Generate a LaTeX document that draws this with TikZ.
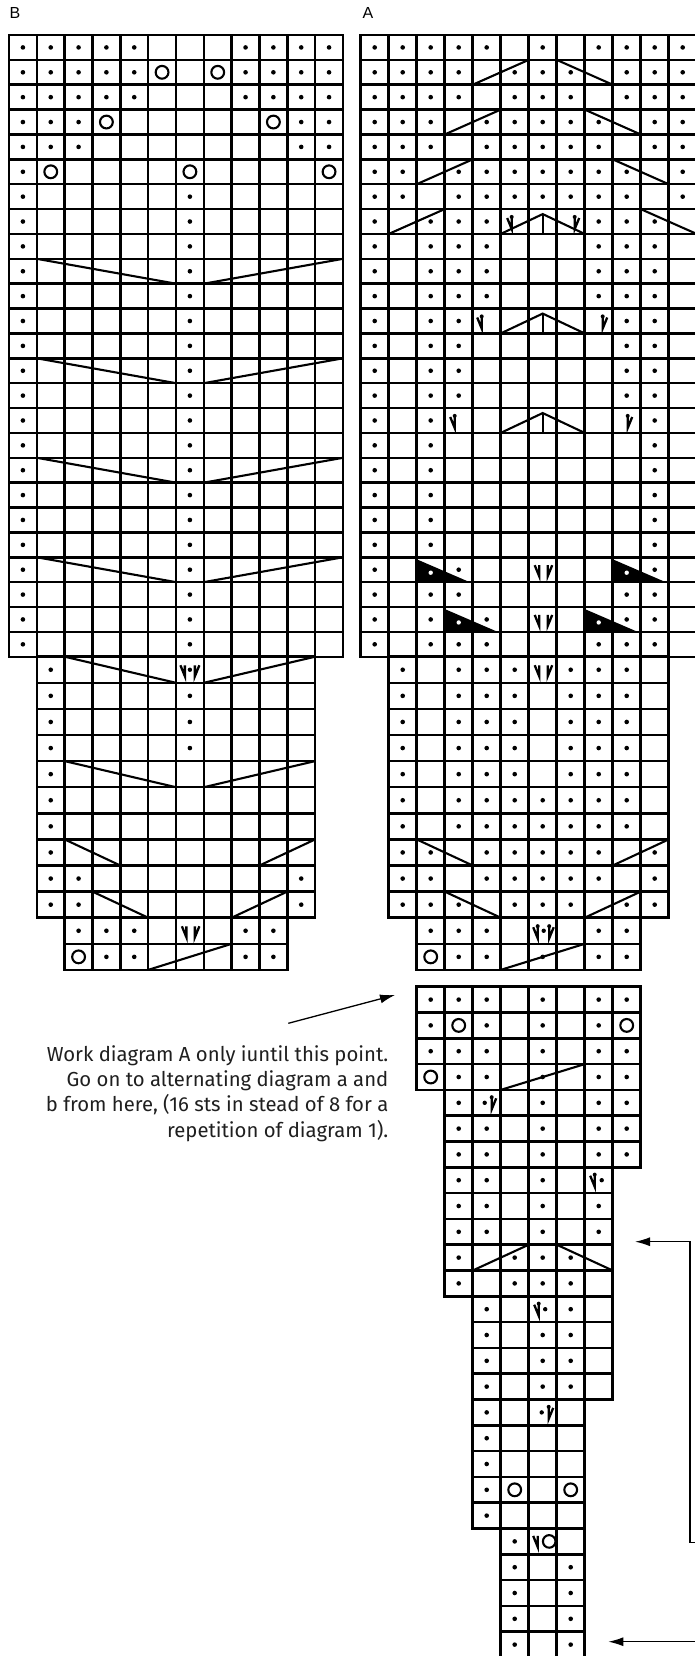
\documentclass[tikz,border=0pt]{standalone}
\usepackage{fontspec}
\setmainfont{Fira Sans}
\newfontfamily\labfont{Liberation Sans}
\usetikzlibrary{arrows.meta}

\newcommand{\setrow}[1]{%
  \ifnum#1<26 \pgfmathsetmacro\yt{35+(#1-1)*24.87}\def\yh{24.87}%
  \else\ifnum#1<100 \pgfmathsetmacro\yt{656.7+(#1-26)*26.1}\def\yh{26.1}%
  \else\pgfmathsetmacro\yt{986.7+(#1-101)*25.8}\def\yh{25.8}\fi\fi
  \pgfmathsetmacro\yb{\yt+\yh}\pgfmathsetmacro\cy{\yt+\yh/2}}
\newcommand{\setcell}[2]{\setrow{#1}\pgfmathsetmacro\xl{\xo+(#2-1)*\cw}%
  \pgfmathsetmacro\xr{\xl+\cw}\pgfmathsetmacro\cx{\xl+\cw/2}}
\newcommand{\cells}[3]{\foreach \c in {#2,...,#3}{\setcell{#1}{\c}\draw[grid] (\xl,\yt) rectangle (\xr,\yb);}}
\newcommand{\dts}[2]{\foreach \c in {#2}{\setcell{#1}{\c}\fill (\cx,\cy) circle (2.3);}}
\newcommand{\yo}[2]{\foreach \c in {#2}{\setcell{#1}{\c}\draw[sym] (\cx,\cy) circle (6.4);}}
\newcommand{\up}[3]{\setcell{#1}{#2}\let\xa\xl\setcell{#1}{#3}\draw[sym] (\xa,\yb) -- (\xr,\yt);}
\newcommand{\dn}[3]{\setcell{#1}{#2}\let\xa\xl\setcell{#1}{#3}\draw[sym] (\xa,\yt) -- (\xr,\yb);}
\newcommand{\cdd}[2]{\setcell{#1}{#2}%
  \draw[sym] ({\cx-1.5*\cw},\yb) -- (\cx,{\yt+5}) -- ({\cx+1.5*\cw},\yb);
  \draw[sym] (\cx,{\yt+5}) -- (\cx,\yb);}
\newcommand{\tri}[2]{\setcell{#1}{#2}%
  \fill (\xl,{\yt+2}) -- (\xl,\yb) -- ({\xl+2*\cw-3},\yb) -- cycle;
  \fill[white] (\cx,{\cy+3}) circle (2.2);}
\newcommand{\gL}[3]{\draw[glyph] ({#1-4.5},{#2-5.5}) -- (#1,{#2+5.5}) -- (#1,{#2-5.5});
  \ifnum#3=1 \fill (#1,{#2-6.6}) circle (2);\fi}
\newcommand{\gR}[3]{\draw[glyph] (#1,{#2-5.5}) -- (#1,{#2+5.5}) -- ({#1+4.5},{#2-5.5});
  \ifnum#3=1 \fill (#1,{#2-6.6}) circle (2);\fi}
\newcommand{\NV}[2]{\setcell{#1}{#2}\gL{\cx-3.5}{\cy+1}{0}\gR{\cx+5}{\cy+1}{0}}
\newcommand{\NdV}[2]{\setcell{#1}{#2}\gL{\cx-5}{\cy+1}{0}\fill (\cx,\cy) circle (2.2);\gR{\cx+5}{\cy+1}{0}}
\newcommand{\NdVb}[2]{\setcell{#1}{#2}\gL{\cx-5}{\cy+2}{1}\fill (\cx+1,\cy) circle (2.2);\gR{\cx+6.5}{\cy+2}{1}}

\begin{document}
\begin{tikzpicture}[x=1pt,y=-1pt,
  grid/.style={line width=2.5pt},
  sym/.style={line width=2.1pt},
  glyph/.style={line width=2.3pt,line join=miter},
  arr/.style={line width=1.3pt,-{Latex[length=15pt,width=9pt]}},
  txt/.style={inner sep=0pt,font=\fontsize{20.3}{25}\selectfont,text=black!88},
  lab/.style={inner sep=0pt,font=\labfont\fontsize{16}{18}\selectfont}]
\useasboundingbox (0,0) rectangle (694,1656);
\fill[white] (0,0) rectangle (694,1656);

\node[lab,anchor=base west] (labB) at (9.5,18.5) {B};
\node[lab,anchor=base west] (labA) at (362.5,18.5) {A};

% ---------------- chart B ----------------
\def\xo{9}\def\cw{27.83}
\foreach \r in {1,...,25}{\cells{\r}{1}{12}}
\foreach \r in {26,...,35}{\cells{\r}{2}{11}}
\cells{36}{3}{10}\cells{37}{3}{10}
\dts{1}{1,2,3,4,5,9,10,11,12}
\dts{2}{1,2,3,4,5,9,10,11,12}\yo{2}{6,8}
\dts{3}{1,2,3,4,5,9,10,11,12}
\dts{4}{1,2,3,11,12}\yo{4}{4,10}
\dts{5}{1,2,3,11,12}
\dts{6}{1}\yo{6}{2,7,12}
\foreach \r in {7,...,25}{\dts{\r}{1,7}}
\foreach \r in {10,14,18,22}{\dn{\r}{2}{6}\up{\r}{8}{12}}
\dts{26}{2}\NdV{26}{7}\dn{26}{3}{6}\up{26}{8}{11}
\foreach \r in {27,28,29}{\dts{\r}{2,7}}
\dts{30}{2}\dn{30}{3}{6}\up{30}{8}{11}
\dts{31}{2}\dts{32}{2}
\dts{33}{2}\dn{33}{3}{4}\up{33}{10}{11}
\dts{34}{2,3,11}
\dts{35}{2,3,11}\dn{35}{4}{5}\up{35}{9}{10}
\dts{36}{3,4,5,9,10}\NV{36}{7}
\yo{37}{3}\dts{37}{4,5,9,10}\up{37}{6}{8}

% ---------------- chart A ----------------
\def\xo{360.7}\def\cw{28}
\foreach \r in {1,...,25}{\cells{\r}{1}{12}}
\foreach \r in {26,...,35}{\cells{\r}{2}{11}}
\cells{36}{3}{10}\cells{37}{3}{10}
\dts{1}{1,2,3,4,5,7,9,10,11,12}
\dts{2}{1,2,3,4,6,7,8,10,11,12}\up{2}{5}{6}\dn{2}{8}{9}
\dts{3}{1,2,3,4,6,7,8,10,11,12}
\dts{4}{1,2,3,5,6,7,8,9,11,12}\up{4}{4}{5}\dn{4}{9}{10}
\dts{5}{1,2,3,5,6,7,8,9,11,12}
\dts{6}{1,2,4,5,6,7,8,9,10,12}\up{6}{3}{4}\dn{6}{10}{11}
\dts{7}{1,2,4,5,6,7,8,9,10,12}
\dts{8}{1,3,4,5,9,10,11}\up{8}{2}{3}\dn{8}{11}{12}\cdd{8}{7}
\setcell{8}{6}\gL{\cx-3}{\cy+2}{1}\setcell{8}{8}\gR{\cx+4}{\cy+2}{1}
\foreach \r in {9,10,11}{\dts{\r}{1,3,4,5,9,10,11}}
\dts{12}{1,3,4,10,11}\cdd{12}{7}
\setcell{12}{5}\gL{\cx-5}{\cy+2}{1}\setcell{12}{9}\gR{\cx+4}{\cy+2}{1}
\foreach \r in {13,14,15}{\dts{\r}{1,3,4,10,11}}
\dts{16}{1,3,11}\cdd{16}{7}
\setcell{16}{4}\gL{\cx-4}{\cy+2}{1}\setcell{16}{10}\gR{\cx+1}{\cy+2}{1}
\foreach \r in {17,...,21}{\dts{\r}{1,3,11}}
\tri{22}{3}\tri{22}{10}\dts{22}{1,4,11}\NV{22}{7}
\dts{23}{1,3,4,10,11}
\tri{24}{4}\tri{24}{9}\dts{24}{1,3,5,10,11}\NV{24}{7}
\dts{25}{1,3,4,5,9,10,11}
\dts{26}{2,4,5,6,8,9,10}\NV{26}{7}
\foreach \r in {27,...,30}{\dts{\r}{2,4,5,6,8,9,10}}
\foreach \r in {31,32}{\dts{\r}{2,4,5,6,7,8,9,10}}
\dts{33}{2,3,5,6,7,8,9,11}\dn{33}{3}{4}\up{33}{10}{11}
\dts{34}{2,3,5,6,7,8,9,11}
\dts{35}{2,3,4,6,7,8,10,11}\dn{35}{4}{5}\up{35}{9}{10}
\dts{36}{3,4,5,9,10}\NdVb{36}{7}
\yo{37}{3}\dts{37}{4,5,7,9,10}\up{37}{6}{8}

% ---------------- continuation (diagrams a / b) ----------------
\foreach \r in {101,...,104}{\cells{\r}{3}{10}}
\foreach \r in {105,106,107}{\cells{\r}{4}{10}}
\foreach \r in {108,...,112}{\cells{\r}{4}{9}}
\foreach \r in {113,...,116}{\cells{\r}{5}{9}}
\foreach \r in {117,...,121}{\cells{\r}{5}{8}}
\foreach \r in {122,...,126}{\cells{\r}{6}{8}}
\dts{101}{3,4,5,7,9,10}
\dts{102}{3,5,7,9}\yo{102}{4,10}
\dts{103}{3,4,5,7,9,10}
\yo{104}{3}\dts{104}{4,5,7,9,10}\up{104}{6}{8}
\dts{105}{4,7,9,10}\setcell{105}{5}\fill (\cx-2,\cy) circle (2.2);\gR{\cx+5}{\cy+1}{1}
\foreach \r in {106,107}{\dts{\r}{4,5,7,9,10}}
\dts{108}{4,5,7}\setcell{108}{9}\gL{\cx-4}{\cy+1}{1}\fill (\cx+3,\cy) circle (2.2);
\foreach \r in {109,110}{\dts{\r}{4,5,7,9}}
\dts{111}{4,6,7,8}\up{111}{5}{6}\dn{111}{8}{9}
\dts{112}{4,6,7,8}
\dts{113}{5,8}\setcell{113}{7}\gL{\cx-4}{\cy+1}{1}\fill (\cx+2.5,\cy) circle (2.2);
\foreach \r in {114,115,116}{\dts{\r}{5,7,8}}
\dts{117}{5}\setcell{117}{7}\fill (\cx-1,\cy) circle (2.2);\gR{\cx+6}{\cy+1}{1}
\dts{118}{5}\dts{119}{5}
\dts{120}{5}\yo{120}{6,8}
\dts{121}{5}
\dts{122}{6}\setcell{122}{7}\gL{\cx-5}{\cy}{0}\draw[sym] (\cx+6.5,\cy) circle (6.3);
\foreach \r in {123,...,126}{\dts{\r}{6,8}}

% ---------------- note and arrows ----------------
\node[txt,anchor=base east] (t1) at (388.5,1061.5) {Work diagram A only iuntil this point.};
\node[txt,anchor=base east] (t2) at (388.5,1086.7) {Go on to alternating diagram a and};
\node[txt,anchor=base east] (t3) at (388.5,1111.9) {b from here, (16 sts in stead of 8 for a};
\node[txt,anchor=base east] (t4) at (388.5,1137.1) {repetition of diagram 1).};
\coordinate (atail) at (288.3,1023.3);
\coordinate (atip) at (395,995);
\draw[arr] (atail) -- (atip);
\coordinate (bstart) at (700,1542.7);
\coordinate (bcorner) at (690,1542.7);
\coordinate (btop) at (690,1241.7);
\coordinate (btip) at (635,1241.7);
\draw[arr] (bstart) -- (bcorner) -- (btop) -- (btip);
\coordinate (cstart) at (700,1641.7);
\coordinate (ctip) at (608.3,1641.7);
\draw[arr] (cstart) -- (ctip);
\end{tikzpicture}
\end{document}
